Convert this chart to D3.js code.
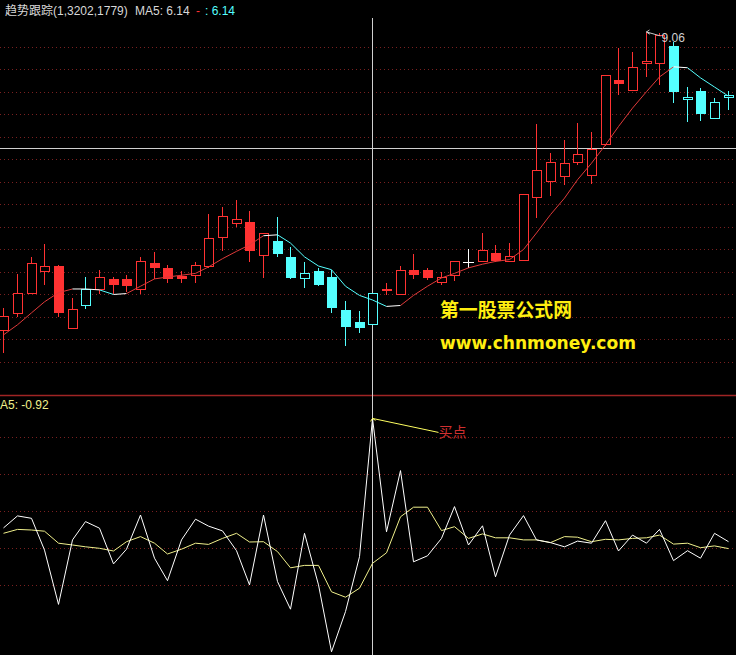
<!DOCTYPE html>
<html><head><meta charset="utf-8">
<script src="https://cdn.jsdelivr.net/npm/d3@7"></script>
<style>html,body{margin:0;padding:0;background:#000;overflow:hidden}</style>
</head><body><svg id="c" width="736" height="655"></svg>
<script>
// ---------- data ----------
const opens  = [5.81,6.00,6.22,6.46,6.51,5.84,6.08,6.26,6.37,6.37, 6.26,6.54,6.49,6.40,6.41,6.51,6.83,6.98,6.99,6.63, 6.78,6.61,6.38,6.46,6.39,6.03,5.90,5.88,6.26,6.21, 6.47,6.47,6.34,6.41,6.55,6.57,6.65,6.56,6.58,7.26, 7.44,7.49,7.64,7.50,7.84,8.54,8.43,8.72,8.72,8.91, 8.33,8.42,8.12,8.35];
const highs  = [6.05,6.42,6.61,6.75,6.52,6.16,6.39,6.47,6.39,6.41, 6.61,6.66,6.52,6.46,6.55,7.08,7.15,7.23,7.11,6.87, 7.04,6.72,6.55,6.49,6.47,6.13,6.02,6.22,6.32,6.51, 6.64,6.49,6.44,6.57,6.70,6.87,6.74,6.76,7.30,8.06, 7.74,7.88,8.07,7.97,8.59,8.88,8.84,9.06,9.05,8.95, 8.46,8.45,8.34,8.42];
const lows   = [5.56,5.95,6.21,6.30,5.95,5.83,6.04,6.20,6.20,6.23, 6.21,6.37,6.32,6.33,6.33,6.49,6.67,6.93,6.55,6.38, 6.61,6.37,6.27,6.29,6.00,5.64,5.78,5.88,6.19,6.20, 6.37,6.36,6.30,6.35,6.49,6.56,6.55,6.55,6.58,7.03, 7.27,7.39,7.61,7.40,7.82,8.37,8.43,8.57,8.48,8.29, 8.08,8.09,8.12,8.21];
const closes = [5.97,6.22,6.54,6.51,6.00,6.04,6.26,6.39,6.30,6.29, 6.56,6.49,6.37,6.37,6.52,6.82,7.06,7.02,6.67,6.87, 6.64,6.38,6.43,6.30,6.05,5.85,5.83,6.22,6.24,6.47, 6.41,6.38,6.39,6.57,6.55,6.69,6.57,6.62,7.30,7.56, 7.64,7.63,7.73,7.78,8.59,8.49,8.68,8.74,9.03,8.41, 8.35,8.17,8.30,8.37];
const trend  = [1,1,1,1,1,1,-1,1,1,1, 1,1,1,1,1,1,1,1,1,1, -1,-1,-1,-1,-1,-1,-1,-1,1,1, 1,1,1,1,1,1,1,1,1,1, 1,1,1,1,1,1,1,1,1,-1, -1,-1,-1,-1];
const ma5    = [5.76,5.87,6.00,6.12,6.22,6.26,6.26,6.25,6.20,6.21, 6.29,6.37,6.39,6.41,6.43,6.50,6.59,6.67,6.74,6.84, 6.85,6.76,6.61,6.51,6.47,6.29,6.19,6.14,6.07,6.08, 6.19,6.29,6.38,6.43,6.49,6.53,6.56,6.58,6.69,6.87, 7.07,7.25,7.45,7.63,7.83,8.03,8.23,8.41,8.57,8.68, 8.67,8.56,8.46,8.36];
const osc    = [0.26,0.66,0.58,-0.48,-2.29,-0.14,0.47,0.25,-0.94,-0.45, 0.69,-0.75,-1.50,-0.14,0.55,0.32,0.16,-0.50,-1.64,0.69, -1.53,-2.45,0.08,-1.64,-3.87,-2.53,-0.70,3.91,0.13,2.17, -0.87,-0.67,-0.09,0.97,-0.31,0.33,-1.37,0.02,0.67,-0.14, -0.23,-0.37,-0.18,-0.25,0.50,-0.51,0.02,-0.25,0.21,-0.83, -0.50,-0.75,0.08,-0.20];
const oscMa  = [0.08,0.21,0.19,0.15,-0.25,-0.31,-0.37,-0.42,-0.51,-0.20, -0.03,-0.25,-0.61,-0.45,-0.25,-0.29,-0.09,0.08,-0.21,-0.20, -0.53,-1.07,-0.99,-0.99,-1.87,-2.05,-1.75,-0.92,-0.57,0.63, 0.95,0.95,0.17,0.30,-0.09,0.06,-0.07,-0.07,-0.14,-0.14, -0.23,-0.03,-0.05,-0.20,-0.12,-0.14,-0.09,-0.07,0.02,-0.28, -0.25,-0.40,-0.34,-0.43];
const titleName = "趋势跟踪(1,3202,1779)";
const lowerTitle = "A5: ";
const buyLabel = "买点";
const cursorIndex = 27;
const siteName = "第一股票公式网";
const siteUrl = "www.chnmoney.com";

// ---------- layout ----------
const W = 736, H = 655;
const RED = "#ff3232", CYAN = "#54ffff", WHITE = "#ffffff", YEL = "#f0f08c";
const svg = d3.select("#c");
svg.append("rect").attr("width", W).attr("height", H).attr("fill", "#000");
const defs = svg.append("defs");
defs.append("clipPath").attr("id", "ct").append("rect").attr("x", 0).attr("y", 0).attr("width", W).attr("height", 395);
defs.append("clipPath").attr("id", "cb").append("rect").attr("x", 0).attr("y", 396).attr("width", W).attr("height", 259);

const n = closes.length;
const xb = d3.scaleBand().domain(d3.range(n)).range([-3.53, 734.65]);
const cx = i => Math.round(xb(i) + xb.bandwidth() / 2);
const yTop = d3.scaleLinear().domain([5.105, 9.408]).range([395, 0]);
const yBot = d3.scaleLinear().domain([-3.977, 4.657]).range([655, 396]);

// grid
const gGrid = svg.append("g").attr("stroke", "#7a2020").attr("stroke-dasharray", "1,3").attr("stroke-width", 1);
d3.range(15).forEach(k => { const y = Math.round(46.7 + 22.5 * k) + 0.5; gGrid.append("line").attr("x1", 0).attr("x2", W).attr("y1", y).attr("y2", y); });
d3.range(5).forEach(k => { const y = Math.round(437.3 + 37 * k) + 0.5; gGrid.append("line").attr("x1", 0).attr("x2", W).attr("y1", y).attr("y2", y); });

// separator
svg.append("line").attr("x1", 0).attr("x2", W).attr("y1", 395.5).attr("y2", 395.5).attr("stroke", "#a02424").attr("stroke-width", 1.4);

// crosshair
svg.append("line").attr("x1", 0).attr("x2", W).attr("y1", 148.5).attr("y2", 148.5).attr("stroke", "#d0d0d0");
svg.append("line").attr("x1", cx(cursorIndex) + 0.5).attr("x2", cx(cursorIndex) + 0.5).attr("y1", 18).attr("y2", H).attr("stroke", "#d0d0d0");

// candles
const gC = svg.append("g").attr("clip-path", "url(#ct)");
for (let i = 0; i < n; i++) {
  const o = opens[i], c = closes[i], h = highs[i], l = lows[i];
  const x = cx(i);
  const col = o === c ? WHITE : (trend[i] > 0 ? RED : CYAN);
  const yt = Math.round(yTop(Math.max(o, c))), yb = Math.round(yTop(Math.min(o, c)));
  const yh = Math.round(yTop(h)), yl = Math.round(yTop(l));
  if (o === c) {
    gC.append("line").attr("x1", x + 0.5).attr("x2", x + 0.5).attr("y1", yh).attr("y2", yl).attr("stroke", col);
    gC.append("line").attr("x1", x - 5).attr("x2", x + 6).attr("y1", yt + 0.5).attr("y2", yt + 0.5).attr("stroke", col);
  } else if (c > o) {
    if (yh < yt) gC.append("line").attr("x1", x + 0.5).attr("x2", x + 0.5).attr("y1", yh).attr("y2", yt).attr("stroke", col);
    if (yl > yb) gC.append("line").attr("x1", x + 0.5).attr("x2", x + 0.5).attr("y1", yb).attr("y2", yl).attr("stroke", col);
    gC.append("rect").attr("x", x - 3.5).attr("y", yt + 0.5).attr("width", 9).attr("height", Math.max(1, yb - yt))
      .attr("fill", "#000").attr("stroke", col);
  } else {
    gC.append("line").attr("x1", x + 0.5).attr("x2", x + 0.5).attr("y1", yh).attr("y2", yl).attr("stroke", col);
    gC.append("rect").attr("x", x - 4).attr("y", yt).attr("width", 10).attr("height", Math.max(2, yb - yt)).attr("fill", col);
  }
}

// MA line (colored by direction)
const gM = svg.append("g").attr("clip-path", "url(#ct)");
for (let i = 1; i < n; i++) {
  const d = ma5[i] - ma5[i - 1];
  const col = d > 0.015 ? "#e03a3a" : (d < -0.015 ? CYAN : WHITE);
  gM.append("line").attr("x1", cx(i - 1) + 0.5).attr("y1", yTop(ma5[i - 1])).attr("x2", cx(i) + 0.5).attr("y2", yTop(ma5[i]))
    .attr("stroke", col).attr("stroke-width", 1);
}

// max marker
const mi = d3.maxIndex(highs);
const mx = cx(mi) + 0.5, my = yTop(highs[mi]);
svg.append("polyline").attr("points", `${mx + 3},${my - 2} ${mx},${my} ${mx + 3},${my + 2} ${mx},${my} ${mx + 14},${my + 4}`)
  .attr("fill", "none").attr("stroke", "#c8c8c8");
svg.append("text").attr("x", mx + 15).attr("y", my + 10).attr("fill", "#d0d0d0")
  .attr("font-family", "Liberation Sans, Arial, sans-serif").attr("font-size", 12).text(highs[mi].toFixed(2));

// bottom panel
const gB = svg.append("g").attr("clip-path", "url(#cb)");
const lineB = arr => d3.line().x((d, i) => cx(i) + 0.5).y(d => yBot(d))(arr);
gB.append("path").attr("d", lineB(oscMa)).attr("fill", "none").attr("stroke", YEL).attr("stroke-width", 1);
gB.append("path").attr("d", lineB(osc)).attr("fill", "none").attr("stroke", WHITE).attr("stroke-width", 1);

// buy point
const bx = cx(cursorIndex) + 0.5, by = yBot(osc[cursorIndex]);
svg.append("line").attr("x1", bx).attr("y1", by).attr("x2", bx + 66).attr("y2", by + 14).attr("stroke", "#ffff60");
svg.append("polyline").attr("points", `${bx - 2},${by + 3} ${bx},${by} ${bx + 3},${by + 2}`).attr("fill", "none").attr("stroke", "#ffff60");
svg.append("text").attr("x", bx + 66).attr("y", by + 19).attr("fill", "#d03030")
  .attr("font-family", "Noto Sans CJK SC, sans-serif").attr("font-size", 14).text(buyLabel);

// titles
const tf = "Liberation Sans, Noto Sans CJK SC, sans-serif";
svg.append("text").attr("x", 5).attr("y", 15).attr("fill", "#d8d8d8").attr("font-family", tf).attr("font-size", 12).text(titleName);
svg.append("text").attr("x", 135).attr("y", 15).attr("fill", "#d8d8d8").attr("font-family", tf).attr("font-size", 12).text("MA5: " + ma5[cursorIndex].toFixed(2));
svg.append("text").attr("x", 196).attr("y", 15).attr("fill", RED).attr("font-family", tf).attr("font-size", 12).text("-");
svg.append("text").attr("x", 205).attr("y", 15).attr("fill", CYAN).attr("font-family", tf).attr("font-size", 12).text(": " + ma5[cursorIndex].toFixed(2));
svg.append("text").attr("x", 0).attr("y", 409).attr("fill", YEL).attr("font-family", tf).attr("font-size", 12).text(lowerTitle + oscMa[cursorIndex].toFixed(2));

// watermark
svg.append("text").attr("x", 440).attr("y", 317).attr("fill", "#ffee10").attr("font-family", "Noto Sans CJK SC, sans-serif")
  .attr("font-weight", "bold").attr("font-size", 19).attr("textLength", 132).attr("lengthAdjust", "spacingAndGlyphs").text(siteName);
svg.append("text").attr("x", 440).attr("y", 349).attr("fill", "#ffee10").attr("font-family", "DejaVu Sans, sans-serif")
  .attr("font-weight", "bold").attr("font-size", 17).attr("textLength", 196).attr("lengthAdjust", "spacingAndGlyphs").text(siteUrl);
</script></body></html>
